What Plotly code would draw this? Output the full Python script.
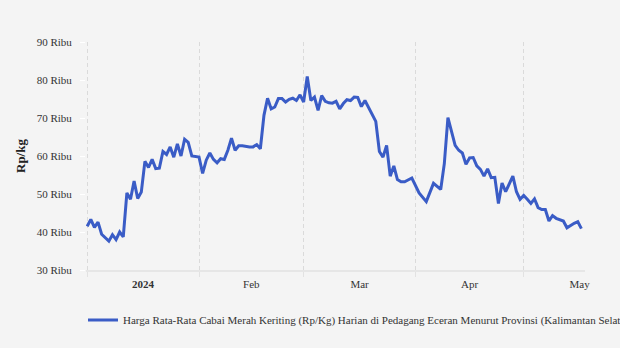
import pandas as pd
import plotly.graph_objects as go

# ---- data ----
dates = [
    "2024-01-01", "2024-01-02", "2024-01-03", "2024-01-04", "2024-01-05", "2024-01-06",
    "2024-01-07", "2024-01-08", "2024-01-09", "2024-01-10", "2024-01-11", "2024-01-12",
    "2024-01-13", "2024-01-14", "2024-01-15", "2024-01-16", "2024-01-17", "2024-01-18",
    "2024-01-19", "2024-01-20", "2024-01-21", "2024-01-22", "2024-01-23", "2024-01-24",
    "2024-01-25", "2024-01-26", "2024-01-27", "2024-01-28", "2024-01-29", "2024-01-30",
    "2024-02-01", "2024-02-02", "2024-02-03", "2024-02-04", "2024-02-05", "2024-02-06",
    "2024-02-07", "2024-02-08", "2024-02-09", "2024-02-10", "2024-02-11", "2024-02-12",
    "2024-02-13", "2024-02-15", "2024-02-16", "2024-02-17", "2024-02-18", "2024-02-19",
    "2024-02-20", "2024-02-21", "2024-02-22", "2024-02-23", "2024-02-24", "2024-02-25",
    "2024-02-26", "2024-02-27", "2024-02-28", "2024-02-29", "2024-03-01", "2024-03-02",
    "2024-03-03", "2024-03-04", "2024-03-05", "2024-03-06", "2024-03-07", "2024-03-08",
    "2024-03-09", "2024-03-10", "2024-03-11", "2024-03-12", "2024-03-13", "2024-03-14",
    "2024-03-15", "2024-03-16", "2024-03-17", "2024-03-18", "2024-03-19", "2024-03-21",
    "2024-03-22", "2024-03-23", "2024-03-24", "2024-03-25", "2024-03-26", "2024-03-27",
    "2024-03-28", "2024-03-29", "2024-03-31", "2024-04-01", "2024-04-02", "2024-04-04",
    "2024-04-06", "2024-04-08", "2024-04-09", "2024-04-10", "2024-04-11", "2024-04-12",
    "2024-04-13", "2024-04-14", "2024-04-15", "2024-04-16", "2024-04-17", "2024-04-18",
    "2024-04-19", "2024-04-20", "2024-04-21", "2024-04-22", "2024-04-23", "2024-04-24",
    "2024-04-25", "2024-04-26", "2024-04-28", "2024-04-29", "2024-04-30", "2024-05-01",
    "2024-05-02", "2024-05-03", "2024-05-04", "2024-05-05", "2024-05-06", "2024-05-07",
    "2024-05-08", "2024-05-09", "2024-05-10", "2024-05-12", "2024-05-13", "2024-05-14",
    "2024-05-15", "2024-05-16", "2024-05-17",
]

harga_ribu = [
    41.5, 43.3, 41.2, 42.6, 39.4, 38.5,
    37.6, 39.3, 38.0, 40.0, 38.7, 50.3,
    48.6, 53.4, 48.8, 50.5, 58.6, 57.0,
    59.1, 56.7, 56.8, 61.2, 60.4, 62.4,
    59.7, 63.2, 60.0, 64.4, 63.6, 60.0,
    59.7, 55.4, 58.9, 60.8, 59.1, 58.2,
    59.3, 59.1, 61.5, 64.7, 61.5, 62.7,
    62.7, 62.4, 62.4, 63.0, 61.9, 70.7,
    75.2, 72.4, 72.9, 75.1, 75.1, 74.2,
    74.9, 75.2, 74.6, 76.1, 74.2, 80.9,
    74.6, 75.5, 72.0, 75.9, 74.4, 74.0,
    73.9, 74.4, 72.4, 73.8, 74.8, 74.6,
    75.5, 75.4, 73.0, 74.6, 72.7, 69.1,
    61.2, 59.7, 62.8, 54.7, 57.4, 53.8,
    53.2, 53.2, 54.2, 52.2, 50.3, 48.0,
    52.8, 51.2, 58.0, 70.1, 66.3, 62.8,
    61.5, 60.8, 57.8, 59.5, 59.6, 57.4,
    56.5, 54.7, 56.6, 54.3, 54.4, 47.5,
    52.9, 50.6, 54.7, 50.6, 48.6, 49.6,
    48.6, 47.5, 48.7, 46.4, 45.9, 45.9,
    42.9, 44.3, 43.6, 42.9, 41.1, 41.8,
    42.3, 42.7, 40.9,
]

series_name = ("Harga Rata-Rata Cabai Merah Keriting (Rp/Kg) Harian di Pedagang "
               "Eceran Menurut Provinsi (Kalimantan Selatan)")
month_starts = ["2024-01-01", "2024-02-01", "2024-03-01", "2024-04-01", "2024-05-01", "2024-06-01"]
month_labels = ["<b>2024</b>", "Feb", "Mar", "Apr", "May"]
y_ticks = [30, 40, 50, 60, 70, 80, 90]
y_title = "Rp/kg"
x_range = ["2023-12-31 16:00", "2024-05-18"]

# ---- figure ----
FONT = "Liberation Serif, Times New Roman, serif"
TXT = "#333333"
BG = "#f4f4f4"

ms = pd.to_datetime(month_starts)
mids = ms[:-1] + (ms[1:] - ms[:-1]) / 2

fig = go.Figure()
fig.add_trace(go.Scatter(
    x=pd.to_datetime(dates), y=harga_ribu, mode="lines", name=series_name,
    line=dict(color="#3a5cc6", width=3), showlegend=True,
))
# empty helper trace so that the label axis (x2) is drawn
fig.add_trace(go.Scatter(
    x=[ms[0]], y=[None], xaxis="x2", yaxis="y", mode="lines",
    showlegend=False, hoverinfo="skip",
))

fig.update_layout(
    width=620, height=348,
    margin=dict(l=86, r=35, t=42, b=78, autoexpand=False),
    paper_bgcolor=BG, plot_bgcolor=BG,
    font=dict(family=FONT, size=11, color=TXT),
    xaxis=dict(
        type="date", range=x_range,
        tickmode="array", tickvals=list(ms[:-1]), showticklabels=False,
        ticks="outside", ticklen=5, tickcolor="#e2e2e2", tickwidth=1,
        showgrid=True, gridcolor="#dadada", gridwidth=1, griddash="4px,3px",
        showline=True, linecolor="#e6e6e6", linewidth=2,
        zeroline=False, automargin=False,
    ),
    xaxis2=dict(
        type="date", range=x_range, overlaying="x", anchor="y", side="bottom",
        tickmode="array", tickvals=list(mids), ticktext=month_labels,
        ticks="", showgrid=False, showline=False, zeroline=False,
        tickfont=dict(family=FONT, size=11, color=TXT),
        ticklabelstandoff=6, automargin=False,
    ),
    yaxis=dict(
        range=[30, 90], tickmode="array", tickvals=y_ticks,
        ticktext=[f"{v} Ribu" for v in y_ticks],
        ticks="outside", ticklen=5, tickcolor="#ffffff",
        showgrid=False, zeroline=False, showline=False,
        tickfont=dict(family=FONT, size=11, color=TXT),
        ticklabelstandoff=6,
        title=dict(text=f"<b>{y_title}</b>", font=dict(family=FONT, size=13, color="#222222"), standoff=8),
        automargin=False,
    ),
    legend=dict(
        orientation="h", xref="container", yref="container",
        x=83 / 620, y=1 - 320 / 348, xanchor="left", yanchor="middle",
        bgcolor="rgba(0,0,0,0)", font=dict(family=FONT, size=11, color=TXT),
    ),
)

fig.write_html("out.html")
